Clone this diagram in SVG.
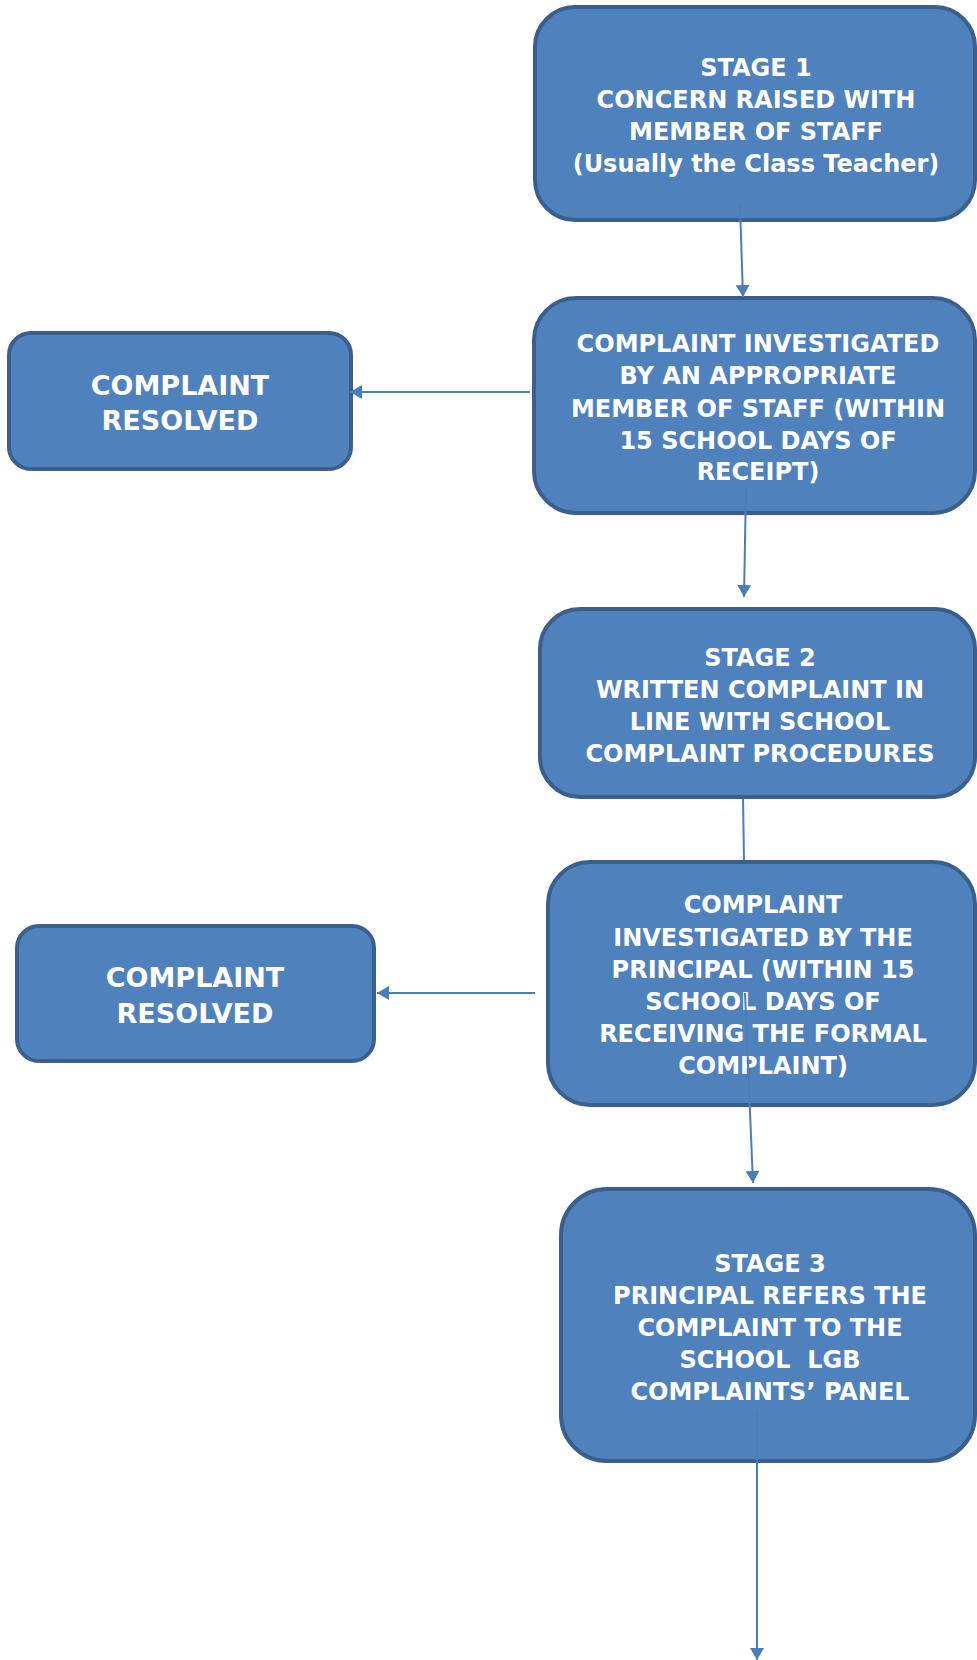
<svg xmlns="http://www.w3.org/2000/svg" width="977" height="1660" viewBox="0 0 977 1660">
<style>
.box{fill:#4F81BD;stroke:#3A5F8C;stroke-width:4}
.t{font-family:"DejaVu Sans",Verdana,sans-serif;font-weight:bold;font-size:24px;fill:#FFFFFF;text-anchor:middle}
.tl{font-size:27px}
.c{stroke:#4A7EBB;stroke-width:2;fill:none}
</style>
<defs>
<marker id="ah" markerUnits="userSpaceOnUse" markerWidth="14" markerHeight="14" refX="12" refY="7" orient="auto">
<path d="M0,0 L12,7 L0,14 Z" fill="#4A7EBB"/>
</marker>
</defs>
<rect width="977" height="1660" fill="#FFFFFF"/>
<g id="conn-under">
<line class="c" x1="743" y1="797" x2="744" y2="862"/>
</g>
<g id="n1">
<rect class="box" x="535" y="7" width="440" height="213" rx="40"/>
<text class="t" x="756" y="76">STAGE 1</text>
<text class="t" x="756" y="108">CONCERN RAISED WITH</text>
<text class="t" x="756" y="140">MEMBER OF STAFF</text>
<text class="t" x="756" y="172">(Usually the Class Teacher)</text>
</g>
<g id="n2">
<rect class="box" x="534" y="298" width="441" height="215" rx="42"/>
<text class="t" x="758" y="352">COMPLAINT INVESTIGATED</text>
<text class="t" x="758" y="384">BY AN APPROPRIATE</text>
<text class="t" x="758" y="417">MEMBER OF STAFF (WITHIN</text>
<text class="t" x="758" y="449">15 SCHOOL DAYS OF</text>
<text class="t" x="758" y="480">RECEIPT)</text>
</g>
<g id="r1">
<rect class="box" x="9" y="333" width="342" height="136" rx="22"/>
<text class="t tl" x="180" y="395">COMPLAINT</text>
<text class="t tl" x="180" y="430">RESOLVED</text>
</g>
<g id="n3">
<rect class="box" x="540" y="609" width="435" height="188" rx="40"/>
<text class="t" x="760" y="666">STAGE 2</text>
<text class="t" x="760" y="698">WRITTEN COMPLAINT IN</text>
<text class="t" x="760" y="730">LINE WITH SCHOOL</text>
<text class="t" x="760" y="762">COMPLAINT PROCEDURES</text>
</g>
<g id="n4">
<rect class="box" x="548" y="862" width="427" height="243" rx="42"/>
<text class="t" x="763" y="913">COMPLAINT</text>
<text class="t" x="763" y="946">INVESTIGATED BY THE</text>
<text class="t" x="763" y="978">PRINCIPAL (WITHIN 15</text>
<text class="t" x="763" y="1010">SCHOOL DAYS OF</text>
<text class="t" x="763" y="1042">RECEIVING THE FORMAL</text>
<text class="t" x="763" y="1074">COMPLAINT)</text>
</g>
<g id="r2">
<rect class="box" x="17" y="926" width="357" height="135" rx="22"/>
<text class="t tl" x="195" y="987">COMPLAINT</text>
<text class="t tl" x="195" y="1023">RESOLVED</text>
</g>
<g id="n5">
<rect class="box" x="561" y="1189" width="414" height="272" rx="46"/>
<text class="t" x="770" y="1272">STAGE 3</text>
<text class="t" x="770" y="1304">PRINCIPAL REFERS THE</text>
<text class="t" x="770" y="1336">COMPLAINT TO THE</text>
<text class="t" x="770" y="1368">SCHOOL&#160; LGB</text>
<text class="t" x="770" y="1400">COMPLAINTS’ PANEL</text>
</g>
<g id="connectors">
<line class="c" x1="740" y1="205" x2="743" y2="297" marker-end="url(#ah)"/>
<line class="c" x1="530" y1="392" x2="350" y2="392" marker-end="url(#ah)"/>
<line class="c" x1="746" y1="487" x2="744" y2="597" marker-end="url(#ah)"/>
<line class="c" x1="535" y1="993" x2="377" y2="993" marker-end="url(#ah)"/>
<line class="c" x1="745" y1="993" x2="753" y2="1183" marker-end="url(#ah)"/>
<line class="c" x1="757" y1="1412" x2="757" y2="1660" marker-end="url(#ah)"/>
</g>
</svg>
